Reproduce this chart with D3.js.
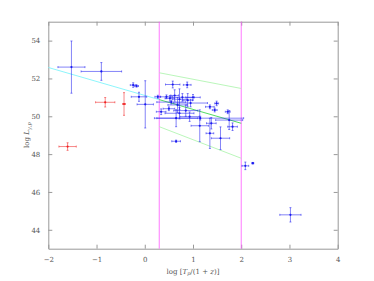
<!DOCTYPE html>
<meta charset="utf-8">
<style>
body { margin:0; background:white; }
text { font-family:"DejaVu Serif", "Liberation Serif", serif; fill:#555; }
</style>
<script src="https://d3js.org/d3.v7.min.js"></script>
<div id="chart"></div>
<script>

// blue sample: x, y, x error, y error
var blueX    = [-1.52, -0.90, -0.24, -0.17, -0.12, 0.01, 0.27, 0.58, 0.88, 0.45, 0.52, 0.62, 0.72, 0.89, 0.78, 0.95, 0.68, 0.34, 0.72, 0.93, 0.65, 1.15, 1.14, 1.35, 1.49, 1.45, 1.38, 1.35, 1.57, 1.75, 1.82, 1.72, 0.65, 2.085, 2.24, 3.02, 0.50, 0.85, 1.00, 0.55];
var blueY    = [52.60, 52.37, 51.65, 51.60, 51.03, 50.63, 51.03, 51.68, 51.66, 51.03, 50.95, 51.10, 50.90, 50.85, 51.00, 50.70, 50.60, 50.24, 50.16, 49.98, 49.90, 49.90, 49.50, 50.50, 50.68, 50.33, 49.63, 49.10, 48.84, 49.80, 49.45, 50.24, 48.68, 47.38, 47.52, 44.79, 50.40, 50.30, 51.00, 50.75];
var blueXerr = [0.28, 0.42, 0.06, 0.04, 0.16, 0.17, 0.06, 0.15, 0.08, 0.13, 0.10, 0.08, 0.15, 0.10, 0.25, 0.35, 0.20, 0.10, 0.30, 0.20, 0.45, 0.90, 0.18, 0.09, 0.04, 0.05, 0.10, 0.08, 0.19, 0.28, 0.10, 0.05, 0.09, 0.07, 0.02, 0.22, 0.12, 0.25, 0.15, 0.30];
var blueYerr = [1.38, 0.47, 0.12, 0.06, 0.24, 1.25, 0.08, 0.18, 0.15, 0.10, 0.15, 0.30, 0.55, 0.35, 0.20, 0.20, 0.40, 0.15, 0.30, 0.25, 0.45, 0.10, 0.84, 0.10, 0.12, 0.10, 0.30, 0.80, 0.60, 0.50, 0.20, 0.10, 0.06, 0.20, 0.04, 0.38, 0.10, 0.30, 0.15, 0.10];

// red sample
var redX    = [-1.60, -0.82, -0.43];
var redY    = [48.40, 50.74, 50.65];
var redXerr = [0.18, 0.20, 0.03];
var redYerr = [0.20, 0.25, 0.60];

// fit line and its bands
var fitLeftX  = [-2, 0.3],  fitLeftY  = [52.58, 50.88];
var fitRightX = [0.3, 2],   fitRightY = [50.88, 49.63];
var bandUpY   = [52.30, 51.47];
var bandLowY  = [49.45, 47.78];

// vertical limits
var limits = [0.3, 2];

var xTicks = [-2, -1, 0, 1, 2, 3, 4];
var yTicks = [44, 46, 48, 50, 52, 54];

var W = 374, H = 281;
var margin = {top: 21.7, right: 36.3, bottom: 32.3, left: 48.3},
    width = W - margin.left - margin.right,
    height = H - margin.top - margin.bottom;

var svg = d3.select("#chart").append("svg")
    .attr("width", W).attr("height", H)
  .append("g")
    .attr("transform", "translate(" + margin.left + "," + margin.top + ")");

var x = d3.scaleLinear().domain([-2, 4]).range([0, width]);
var y = d3.scaleLinear().domain([43, 55]).range([height, 0]);

// axes, ticks inside on all four sides
function styleAxis(g) {
  g.select(".domain").attr("stroke", "#999");
  g.selectAll(".tick line").attr("stroke", "#999");
  g.selectAll(".tick text").attr("font-size", 7).attr("fill", "#555")
    .attr("font-family", "DejaVu Serif, serif");
}
var fmt = d3.format("d");
svg.append("g").attr("transform", "translate(0," + height + ")")
  .call(d3.axisBottom(x).tickValues(xTicks).tickFormat(fmt).tickSizeInner(-4).tickSizeOuter(0).tickPadding(8))
  .call(styleAxis);
svg.append("g")
  .call(d3.axisTop(x).tickValues(xTicks).tickSizeInner(-4).tickSizeOuter(0).tickFormat(""))
  .call(styleAxis);
svg.append("g")
  .call(d3.axisLeft(y).tickValues(yTicks).tickFormat(fmt).tickSizeInner(-4).tickSizeOuter(0).tickPadding(8))
  .call(styleAxis);
svg.append("g").attr("transform", "translate(" + width + ",0)")
  .call(d3.axisRight(y).tickValues(yTicks).tickSizeInner(-4).tickSizeOuter(0).tickFormat(""))
  .call(styleAxis);

var line = d3.line().x(function(d) { return x(d[0]); }).y(function(d) { return y(d[1]); });

// magenta limits
svg.selectAll(".lim").data(limits).enter().append("line")
  .attr("x1", function(d) { return x(d); }).attr("x2", function(d) { return x(d); })
  .attr("y1", 0).attr("y2", height)
  .attr("stroke", "#ff55ff").attr("stroke-width", 0.8);

// fits
svg.append("path").datum(d3.zip(fitLeftX, fitLeftY)).attr("d", line)
  .attr("fill", "none").attr("stroke", "#80f4fa").attr("stroke-width", 0.9);
svg.append("path").datum(d3.zip(fitRightX, fitRightY)).attr("d", line)
  .attr("fill", "none").attr("stroke", "#40d850").attr("stroke-width", 0.9);
[bandUpY, bandLowY].forEach(function(b) {
  svg.append("path").datum(d3.zip(fitRightX, b)).attr("d", line)
    .attr("fill", "none").attr("stroke", "#a8f4a8").attr("stroke-width", 0.8);
});

// error bars
function drawPoints(xs, ys, xe, ye, color) {
  var data = xs.map(function(v, i) { return {x: v, y: ys[i], ex: xe[i], ey: ye[i]}; });
  var g = svg.append("g");
  var p = g.selectAll("g").data(data).enter().append("g");
  p.append("line")
    .attr("x1", function(d) { return x(d.x - d.ex); }).attr("x2", function(d) { return x(d.x + d.ex); })
    .attr("y1", function(d) { return y(d.y); }).attr("y2", function(d) { return y(d.y); });
  p.append("line")
    .attr("x1", function(d) { return x(d.x); }).attr("x2", function(d) { return x(d.x); })
    .attr("y1", function(d) { return y(d.y - d.ey); }).attr("y2", function(d) { return y(d.y + d.ey); });
  // caps
  [-1, 1].forEach(function(s) {
    p.append("line")
      .attr("x1", function(d) { return x(d.x + s * d.ex); }).attr("x2", function(d) { return x(d.x + s * d.ex); })
      .attr("y1", function(d) { return y(d.y) - 1; }).attr("y2", function(d) { return y(d.y) + 1; });
    p.append("line")
      .attr("x1", function(d) { return x(d.x) - 1; }).attr("x2", function(d) { return x(d.x) + 1; })
      .attr("y1", function(d) { return y(d.y + s * d.ey); }).attr("y2", function(d) { return y(d.y + s * d.ey); });
  });
  p.selectAll("line").attr("stroke", color).attr("stroke-width", 0.9).attr("stroke-opacity", 0.6);
  p.append("circle")
    .attr("cx", function(d) { return x(d.x); }).attr("cy", function(d) { return y(d.y); })
    .attr("r", 1.1).attr("fill", color);
}
drawPoints(blueX, blueY, blueXerr, blueYerr, "#1a1af0");
drawPoints(redX, redY, redXerr, redYerr, "#f02020");

// labels
var xl = svg.append("text").attr("x", width / 2).attr("y", height + 25)
  .attr("text-anchor", "middle").attr("font-size", 7);
xl.append("tspan").text("log [");
xl.append("tspan").attr("font-style", "italic").text("T");
xl.append("tspan").attr("font-size", 5).attr("dy", 1.5).attr("font-style", "italic").text("p");
xl.append("tspan").attr("dy", -1.5).text("/(1 + ");
xl.append("tspan").attr("font-style", "italic").text("z");
xl.append("tspan").text(")]");

var yl = svg.append("text")
  .attr("transform", "translate(" + (-19) + "," + (height / 2) + ") rotate(-90)")
  .attr("text-anchor", "middle").attr("font-size", 7);
yl.append("tspan").text("log ");
yl.append("tspan").attr("font-style", "italic").text("L");
yl.append("tspan").attr("font-size", 5).attr("dy", 1.5).attr("font-style", "italic").text("γ,p");

</script>
